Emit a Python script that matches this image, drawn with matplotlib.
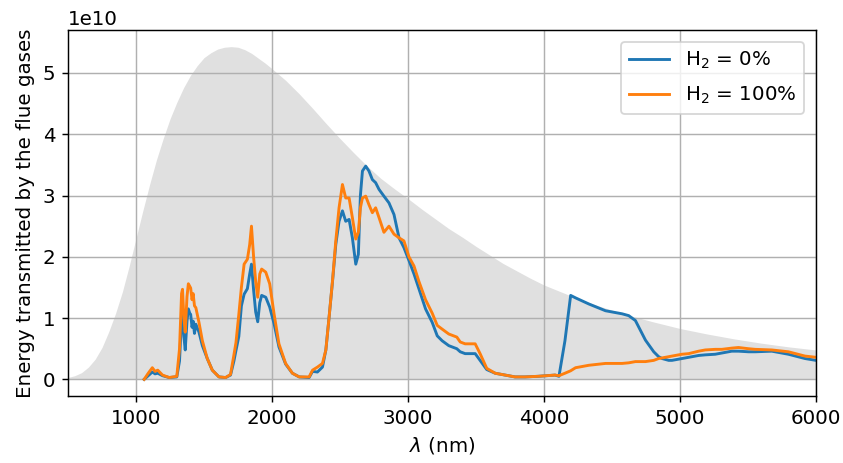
import matplotlib
matplotlib.use("Agg")
import matplotlib.pyplot as plt

# Blackbody-like emission envelope of the flame (x1e10)
envelope_nm = [500, 550, 600, 650, 700, 750, 800, 850, 900, 950, 1000, 1050,
               1100, 1150, 1200, 1250, 1300, 1350, 1400, 1450, 1500, 1550,
               1600, 1650, 1700, 1750, 1800, 1850, 1900, 1950, 2000, 2100,
               2200, 2300, 2400, 2500, 2600, 2700, 2800, 2900, 3000, 3100,
               3200, 3300, 3400, 3500, 3600, 3700, 3800, 3900, 4000, 4200,
               4400, 4600, 4800, 5000, 5200, 5400, 5600, 5800, 6000]
envelope = [0.03, 0.06, 0.11, 0.20, 0.33, 0.52, 0.78, 1.08, 1.43, 1.85, 2.30, 2.75,
            3.18, 3.58, 3.93, 4.25, 4.52, 4.76, 4.96, 5.12, 5.25, 5.33,
            5.39, 5.42, 5.43, 5.42, 5.38, 5.32, 5.24, 5.16, 5.07, 4.88,
            4.66, 4.42, 4.17, 3.93, 3.70, 3.48, 3.28, 3.11, 2.95, 2.78,
            2.62, 2.46, 2.32, 2.17, 2.03, 1.89, 1.77, 1.65, 1.54, 1.36,
            1.20, 1.06, 0.94, 0.83, 0.74, 0.66, 0.59, 0.53, 0.48]

# Transmitted spectra for the two fuel compositions (x1e10)
wavelength_nm = [1060, 1090, 1120, 1140, 1160, 1195, 1244, 1300, 1320, 1335, 1342,
                 1352, 1362, 1375, 1385, 1395, 1402, 1412, 1420, 1430, 1440, 1463,
                 1488, 1524, 1561, 1610, 1659, 1695, 1720, 1735, 1756, 1775, 1795,
                 1819, 1836, 1849, 1865, 1880, 1895, 1910, 1924, 1954, 1983, 2015,
                 2051, 2100, 2150, 2200, 2273, 2298, 2334, 2371, 2396, 2420, 2445,
                 2469, 2493, 2518, 2542, 2567, 2591, 2616, 2635, 2650, 2665, 2689,
                 2713, 2738, 2762, 2787, 2823, 2860, 2897, 2934, 2970, 3007, 3044,
                 3080, 3129, 3178, 3215, 3251, 3300, 3359, 3384, 3420, 3494, 3530,
                 3579, 3641, 3714, 3787, 3861, 3958, 4081, 4110, 4154, 4196, 4232,
                 4330, 4452, 4574, 4623, 4672, 4746, 4807, 4843, 4868, 4917, 4941,
                 5015, 5064, 5137, 5186, 5259, 5308, 5381, 5430, 5504, 5553, 5675,
                 5797, 5919, 6000]
h2_0 = [0.00, 0.06, 0.12, 0.09, 0.10, 0.06, 0.03, 0.04, 0.30, 1.00, 1.12,
        0.70, 0.48, 0.95, 1.15, 1.08, 1.06, 0.85, 0.95, 0.75, 0.90, 0.77,
        0.55, 0.34, 0.15, 0.04, 0.03, 0.07, 0.30, 0.47, 0.70, 1.20, 1.39,
        1.48, 1.72, 1.88, 1.45, 1.10, 0.94, 1.25, 1.37, 1.34, 1.18, 0.91,
        0.53, 0.25, 0.10, 0.04, 0.03, 0.13, 0.12, 0.20, 0.48, 1.02, 1.60,
        2.20, 2.58, 2.75, 2.58, 2.61, 2.31, 1.88, 2.04, 3.00, 3.40, 3.48,
        3.40, 3.26, 3.21, 3.10, 2.99, 2.88, 2.69, 2.31, 2.15, 1.94, 1.72,
        1.48, 1.15, 0.93, 0.71, 0.63, 0.55, 0.50, 0.45, 0.42, 0.42, 0.31,
        0.16, 0.10, 0.07, 0.04, 0.04, 0.05, 0.07, 0.05, 0.63, 1.37, 1.33,
        1.23, 1.12, 1.07, 1.04, 0.96, 0.64, 0.45, 0.37, 0.34, 0.31, 0.31,
        0.34, 0.36, 0.39, 0.40, 0.41, 0.43, 0.46, 0.46, 0.45, 0.45, 0.46,
        0.41, 0.34, 0.31]
h2_100 = [0.00, 0.10, 0.19, 0.13, 0.15, 0.07, 0.03, 0.05, 0.50, 1.40, 1.47,
          1.00, 0.77, 1.35, 1.56, 1.52, 1.49, 1.30, 1.40, 1.20, 1.17, 0.93,
          0.63, 0.34, 0.15, 0.04, 0.03, 0.08, 0.40, 0.60, 1.06, 1.50, 1.88,
          1.96, 2.20, 2.50, 1.99, 1.60, 1.34, 1.72, 1.80, 1.75, 1.56, 1.07,
          0.58, 0.26, 0.10, 0.04, 0.04, 0.15, 0.20, 0.26, 0.48, 1.02, 1.61,
          2.26, 2.80, 3.18, 2.96, 2.96, 2.64, 2.29, 2.40, 2.80, 2.96, 2.99,
          2.85, 2.72, 2.80, 2.64, 2.40, 2.50, 2.37, 2.31, 2.26, 2.00, 1.85,
          1.60, 1.30, 1.08, 0.88, 0.82, 0.74, 0.69, 0.61, 0.58, 0.58, 0.42,
          0.18, 0.10, 0.07, 0.04, 0.04, 0.05, 0.07, 0.06, 0.10, 0.14, 0.19,
          0.23, 0.26, 0.26, 0.27, 0.29, 0.29, 0.31, 0.34, 0.35, 0.37, 0.38,
          0.41, 0.42, 0.46, 0.48, 0.49, 0.49, 0.51, 0.52, 0.50, 0.49, 0.48,
          0.45, 0.38, 0.36]

series_labels = ["H$_2$ = 0%", "H$_2$ = 100%"]
scale = 1e10

plt.rcParams["font.size"] = 11

fig = plt.figure(figsize=(843 / 130, 463 / 130), dpi=130)
ax = fig.add_axes([68 / 843, 1 - 396 / 463, (816 - 68) / 843, (396 - 30) / 463])

ax.fill_between(envelope_nm, 0, [v * scale for v in envelope],
                color="lightgray", alpha=0.7, linewidth=0)
ax.plot(wavelength_nm, [v * scale for v in h2_0], color="#1f77b4",
        linewidth=1.6, label=series_labels[0])
ax.plot(wavelength_nm, [v * scale for v in h2_100], color="#ff7f0e",
        linewidth=1.6, label=series_labels[1])

ax.set_xlim(500, 6000)
ax.grid(True)
ax.set_xlabel(r"$\lambda$ (nm)")
ax.set_ylabel("Energy transmitted by the flue gases")
ax.legend(loc="upper right", fontsize=11, borderaxespad=0.6, labelspacing=0.7)

fig.savefig("out.png", dpi=130)
